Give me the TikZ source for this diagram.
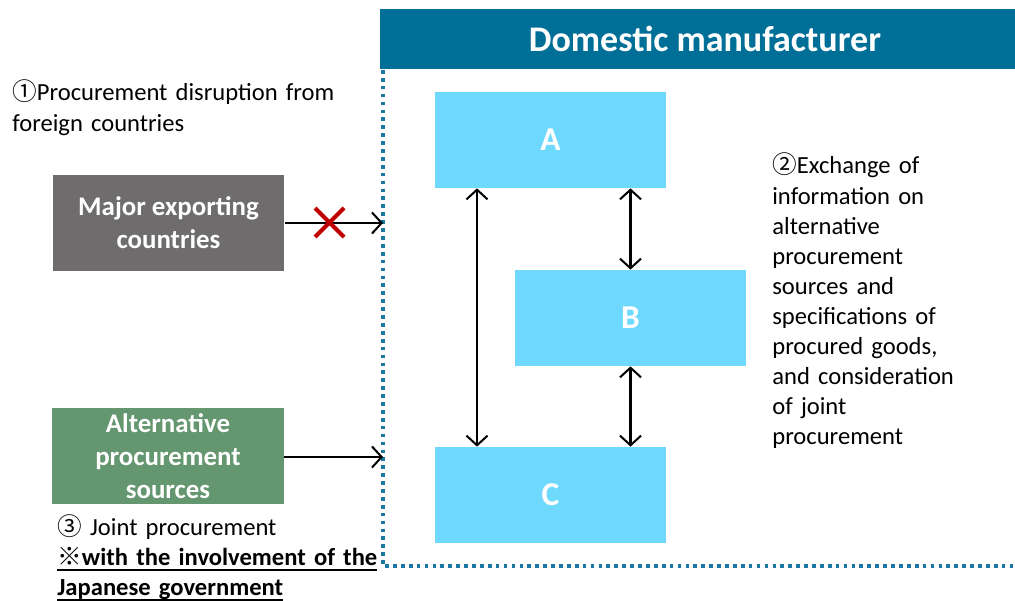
\documentclass[tikz,border=0pt]{standalone}
\usepackage{fontspec}
\setmainfont{Carlito}
\newfontfamily\cjk{Noto Sans CJK JP}
\usetikzlibrary{arrows.meta,calc}
\definecolor{hdrblue}{HTML}{006F98}
\definecolor{frameblue}{HTML}{1A78A2}
\definecolor{boxcyan}{HTML}{6ED9FD}
\definecolor{boxgray}{HTML}{6F6C6D}
\definecolor{boxgreen}{HTML}{649670}
\definecolor{crossred}{HTML}{C00000}
\newcommand\myul[1]{\leavevmode\setbox0\hbox{#1}\rlap{\rule[-3.2pt]{\wd0}{1.1pt}}\box0}
\begin{document}
\begin{tikzpicture}[x=0.02cm,y=-0.02cm,
  >={Straight Barb[length=5.5pt,width=12pt]},
  conn/.style={line width=1.15pt},
  cbox/.style={fill=boxcyan,minimum width=4.62cm,minimum height=1.92cm,inner sep=0,text=white,font=\fontsize{19}{22}\selectfont\bfseries},
  sbox/.style={minimum width=4.64cm,minimum height=1.92cm,inner sep=0,text=white,align=center,font=\fontsize{15.3}{18.7}\selectfont\bfseries},
  body/.style={inner sep=0,align=left,font=\fontsize{14}{17.1}\selectfont},
  frame/.style={draw=frameblue,line width=1.9pt,dash pattern=on 2.1pt off 2.4pt}
]
\useasboundingbox (0,0) rectangle (1015,601);
% header
\node[fill=hdrblue,minimum width=12.7cm,minimum height=1.2cm,inner sep=0,anchor=north west] (hdr) at (380,9) {};
\node[text=white,font=\fontsize{20.5}{24}\selectfont\bfseries] (hdrt) at (705,39) {Domestic manufacturer};
% frame
\coordinate (ftop) at (383,70);
\coordinate (fcorner) at (383,566);
\coordinate (fright) at (1015,566);
\draw[frame] (ftop) -- (fcorner) -- (fright);
% boxes
\node[cbox] (A) at (550.5,140) {A};
\node[cbox] (B) at (630.5,318) {B};
\node[cbox] (C) at (550.5,495) {C};
\node[sbox,fill=boxgray] (maj) at (168.5,223) {Major exporting\\countries};
\node[sbox,fill=boxgreen] (alt) at (168,456) {Alternative\\procurement\\sources};
% connectors
\coordinate (f1) at (383,223);
\coordinate (f2) at (383,457);
\draw[conn,->] (maj.east) -- (f1);
\draw[conn,->] (alt.east |- f2) -- (f2);
\coordinate (lx) at (477,0);
\draw[conn,<->] (A.south -| lx) -- (C.north -| lx);
\draw[conn,<->] (B.north |- A.south) -- (B.north);
\draw[conn,<->] (B.south) -- (B.south |- C.north);
% red cross
\coordinate (x1) at (315,208);
\coordinate (x2) at (344,237);
\coordinate (x3) at (315,237);
\coordinate (x4) at (344,208);
\draw[crossred,line width=2.4pt] (x1) -- (x2) (x3) -- (x4);
% texts
\node[body,anchor=base west,text width=7cm] (t1) at (12,101) {{\cjk ①}Procurement disruption from\\foreign countries};
\node[body,anchor=base west,text width=5cm] (t2) at (772,174) {{\cjk ②}Exchange of\\information on\\alternative\\procurement\\sources and\\specifications of\\procured goods,\\and consideration\\of joint\\procurement};
\node[body,anchor=base west,text width=7cm] (t3) at (57,535) {{\cjk ③} Joint procurement\\\myul{\textbf{{\cjk ※}with the involvement of the}}\\\myul{\textbf{Japanese government}}};
\end{tikzpicture}
\end{document}
